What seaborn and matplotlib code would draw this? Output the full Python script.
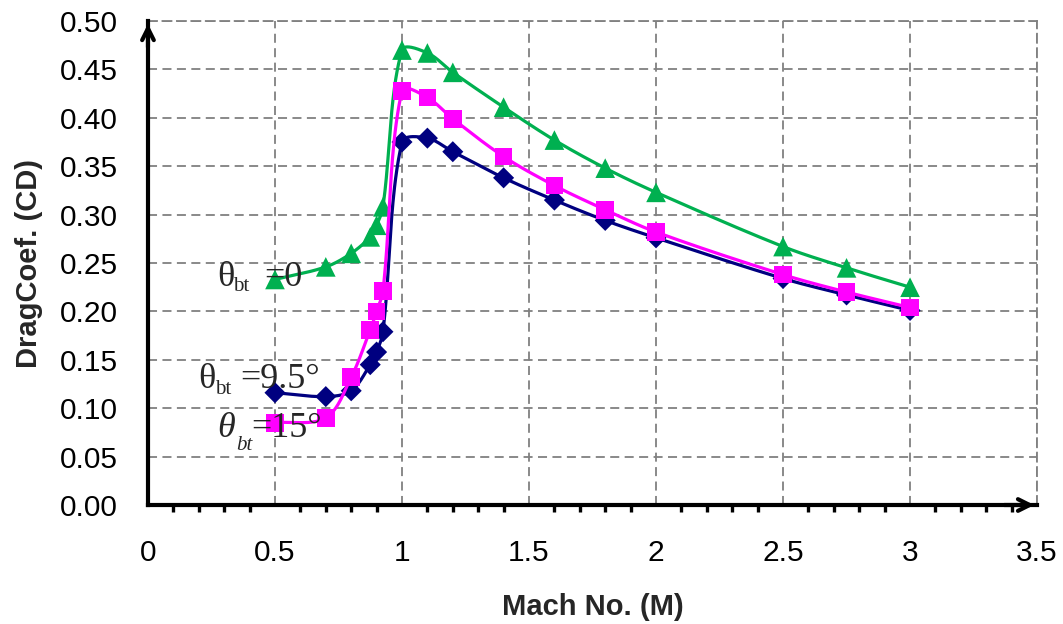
import numpy as np
import pandas as pd
import matplotlib
matplotlib.use("Agg")
import matplotlib.pyplot as plt
import seaborn as sns

# ---------------- data ----------------
mach = [0.5, 0.7, 0.8, 0.875, 0.9, 0.925, 1.0, 1.1, 1.2, 1.4, 1.6, 1.8, 2.0, 2.5, 2.75, 3.0]
cd_theta0 = [0.233, 0.246, 0.260, 0.277, 0.289, 0.308, 0.470, 0.467, 0.447, 0.411, 0.377, 0.348, 0.323, 0.267, 0.245, 0.225]
cd_theta95 = [0.116, 0.112, 0.118, 0.145, 0.158, 0.179, 0.375, 0.379, 0.365, 0.338, 0.315, 0.294, 0.276, 0.234, 0.217, 0.201]
cd_theta15 = [0.085, 0.090, 0.132, 0.181, 0.200, 0.221, 0.428, 0.421, 0.399, 0.360, 0.330, 0.305, 0.282, 0.238, 0.220, 0.204]
series_names = ["theta0", "theta95", "theta15"]
x_ticks = [0, 0.5, 1, 1.5, 2, 2.5, 3, 3.5]
x_tick_labels = ["0", "0.5", "1", "1.5", "2", "2.5", "3", "3.5"]
y_ticks = [0.0, 0.05, 0.10, 0.15, 0.20, 0.25, 0.30, 0.35, 0.40, 0.45, 0.50]
y_tick_labels = ["0.00", "0.05", "0.10", "0.15", "0.20", "0.25", "0.30", "0.35", "0.40", "0.45", "0.50"]
x_label = "Mach No. (M)"
y_label = "DragCoef. (CD)"
# curve annotations: symbol, subscript, rest, italic?
label_theta = ["θ", "θ", "θ"]
label_sub = ["bt", "bt", "bt"]
label_rest = ["=0", "=9.5°", "=15°"]
label_italic = [False, False, True]

colors = {"theta0": "#00B050", "theta95": "#000080", "theta15": "#FF00FF"}
markers = {"theta0": "^", "theta95": "D", "theta15": "s"}
msize = {"theta0": 200, "theta95": 115, "theta15": 160}

df = pd.concat([
    pd.DataFrame({"Mach": mach, "CD": cd_theta0, "series": "theta0"}),
    pd.DataFrame({"Mach": mach, "CD": cd_theta95, "series": "theta95"}),
    pd.DataFrame({"Mach": mach, "CD": cd_theta15, "series": "theta15"}),
], ignore_index=True)

sns.set_theme(style="white")
plt.rcParams["font.family"] = ["Liberation Sans", "DejaVu Sans"]

# pixel scale of the axes (used only to make the smoothing isotropic)
PX_X, PX_Y = 254.0, 968.0


def excel_smooth(xs, ys, n=40):
    """Bezier smoothing through the data points (Excel-like)."""
    p = np.column_stack([np.asarray(xs) * PX_X, np.asarray(ys) * PX_Y]).astype(float)
    m = len(p)
    out = [p[0]]

    def ctrl(a, b, c, seg_len):
        d_ab = np.linalg.norm(b - a)
        d_bc = np.linalg.norm(c - b)
        if d_ab + d_bc == 0:
            return np.zeros(2)
        return (c - a) * seg_len / (d_ab + d_bc) / 3.0

    for i in range(m - 1):
        p0 = p[i - 1] if i > 0 else p[i]
        p1 = p[i]
        p2 = p[i + 1]
        p3 = p[i + 2] if i + 2 < m else p[i + 1]
        L = np.linalg.norm(p2 - p1)
        c1 = p1 + ctrl(p0, p1, p2, L)
        c2 = p2 - ctrl(p1, p2, p3, L)
        t = np.linspace(0, 1, n)[1:, None]
        seg = ((1 - t) ** 3) * p1 + 3 * ((1 - t) ** 2) * t * c1 + 3 * (1 - t) * t ** 2 * c2 + t ** 3 * p2
        out.extend(seg)
    out = np.array(out)
    return out[:, 0] / PX_X, out[:, 1] / PX_Y


fig = plt.figure(figsize=(10.63, 6.24), dpi=100)
ax = fig.add_axes([0.1392, 0.1907, 0.8364, 0.7756])

for z, name in enumerate(series_names):
    sub = df[df["series"] == name]
    sx, sy = excel_smooth(sub["Mach"].values, sub["CD"].values)
    ax.plot(sx, sy, color=colors[name], lw=2.3, zorder=3 + 2 * z, solid_capstyle="round")
    sns.scatterplot(data=sub, x="Mach", y="CD", marker=markers[name], color=colors[name],
                    s=msize[name], edgecolor="none", linewidth=0, ax=ax, legend=False,
                    zorder=4 + 2 * z)

ax.set_xlim(0, 3.5)
ax.set_ylim(0, 0.5)
ax.set_xticks(x_ticks)
ax.set_xticklabels(x_tick_labels)
ax.set_yticks(y_ticks)
ax.set_yticklabels(y_tick_labels)
ax.set_xticks(np.arange(0, 3.5, 0.1), minor=True)

ax.tick_params(axis="both", which="major", direction="out", length=6.5, width=2.4,
               color="black", labelsize=21.5, labelcolor="black")
ax.tick_params(axis="x", which="major", pad=18)
ax.tick_params(axis="y", which="major", pad=15)
ax.tick_params(axis="x", which="minor", direction="out", length=5, width=2.4, color="black", bottom=True)

ax.set_xlabel(x_label, fontsize=21, fontweight="bold", labelpad=19)
ax.set_ylabel(y_label, fontsize=21, fontweight="bold", labelpad=12)

ax.grid(True, which="major", color="#808080", linestyle=(0, (5, 3)), linewidth=1.3, zorder=0)
ax.set_axisbelow(True)

for s in ["left", "bottom"]:
    ax.spines[s].set_color("black")
    ax.spines[s].set_linewidth(3.0)
    ax.spines[s].set_zorder(10)
for s in ["top", "right"]:
    ax.spines[s].set_color("#808080")
    ax.spines[s].set_linestyle((0, (5, 3)))
    ax.spines[s].set_linewidth(1.3)

# axis arrows
ax.annotate("", xy=(1.0, 0), xycoords="axes fraction", xytext=(0.96, 0),
            arrowprops=dict(arrowstyle="->,head_length=0.7,head_width=0.35", lw=3.0, color="black"),
            annotation_clip=False, zorder=11)
ax.annotate("", xy=(0, 1.0), xycoords="axes fraction", xytext=(0, 0.94),
            arrowprops=dict(arrowstyle="->,head_length=0.7,head_width=0.35", lw=3.0, color="black"),
            annotation_clip=False, zorder=11)

# curve labels (anchor = left of theta at its baseline); offsets in pixels
anchors = [(0.272, 0.226), (0.196, 0.121), (0.272, 0.070)]
sub_off = [(16, -5), (17, -6), (19, -13)]
rest_off = [(47, 0), (42, 0), (34, 0)]
px2pt = 0.72
for i in range(3):
    style = "italic" if label_italic[i] else "normal"
    ax.annotate(label_theta[i], xy=anchors[i], xycoords="data", fontsize=26,
                family="Liberation Serif", style=style, ha="left", va="baseline",
                annotation_clip=False, zorder=20)
    ax.annotate(label_sub[i], xy=anchors[i], xycoords="data",
                xytext=(sub_off[i][0] * px2pt, sub_off[i][1] * px2pt), textcoords="offset points",
                fontsize=15, family="Liberation Serif", style=style, ha="left", va="baseline",
                annotation_clip=False, zorder=20)
    ax.annotate(label_rest[i], xy=anchors[i], xycoords="data",
                xytext=(rest_off[i][0] * px2pt, rest_off[i][1] * px2pt), textcoords="offset points",
                fontsize=26, family="Liberation Serif", ha="left", va="baseline",
                annotation_clip=False, zorder=20)

fig.savefig("out.png", dpi=100)
